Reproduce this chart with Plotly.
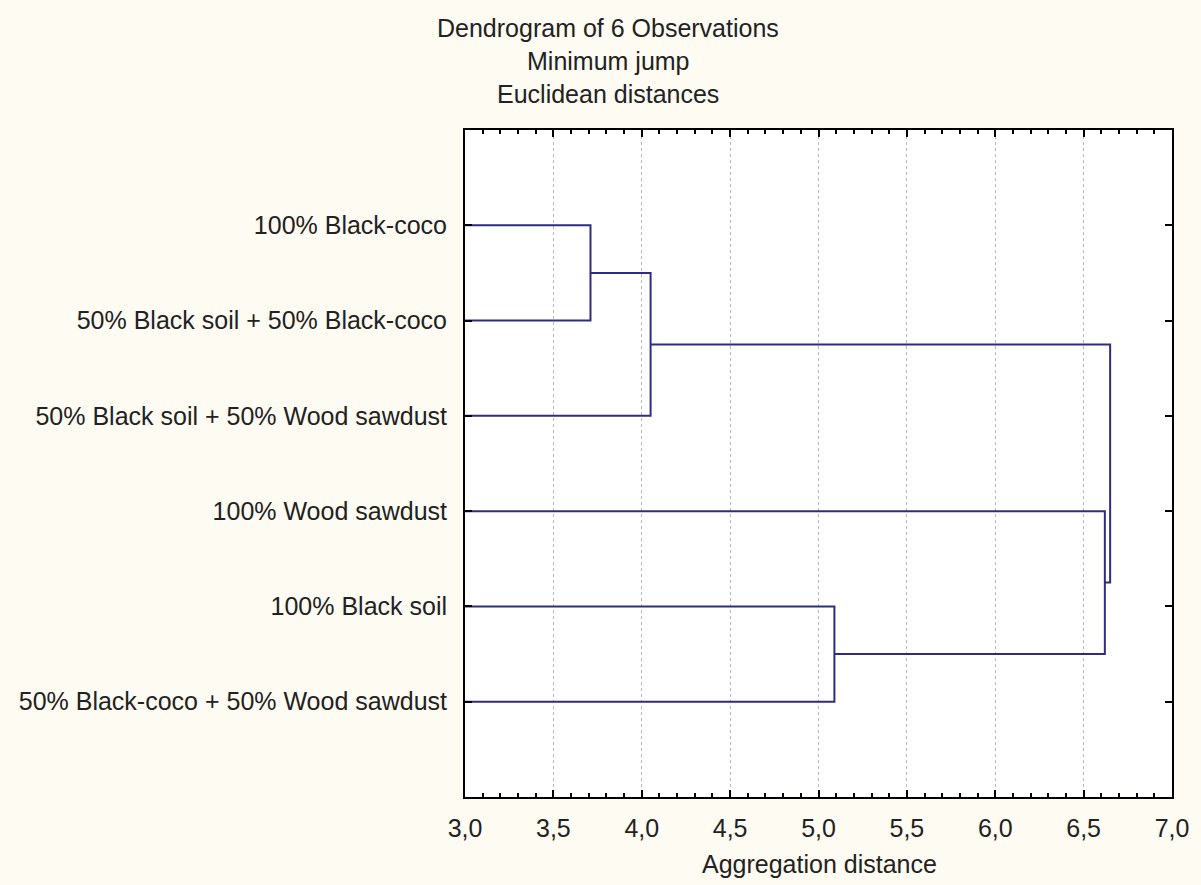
import plotly.graph_objects as go

# ---- data ----
leaf_labels = [
    "100% Black-coco",
    "50% Black soil + 50% Black-coco",
    "50% Black soil + 50% Wood sawdust",
    "100% Wood sawdust",
    "100% Black soil",
    "50% Black-coco + 50% Wood sawdust",
]
# merges: (child_a, child_b, aggregation distance); new cluster ids start at len(leaf_labels)
merge_a = [0, 6, 4, 3, 7]
merge_b = [1, 2, 5, 8, 9]
merge_dist = [3.71, 4.05, 5.09, 6.62, 6.65]

x_ticks = [3.0, 3.5, 4.0, 4.5, 5.0, 5.5, 6.0, 6.5, 7.0]
title_lines = ["Dendrogram of 6 Observations", "Minimum jump", "Euclidean distances"]
x_title = "Aggregation distance"

# ---- build dendrogram paths ----
n = len(leaf_labels)
ypos = {i: i + 1 for i in range(n)}
height = {i: 0.0 for i in range(n)}
xs, ys = [], []
for k, (a, b, d) in enumerate(zip(merge_a, merge_b, merge_dist)):
    cid = n + k
    xs += [height[a], d, d, height[b], None]
    ys += [ypos[a], ypos[a], ypos[b], ypos[b], None]
    ypos[cid] = (ypos[a] + ypos[b]) / 2
    height[cid] = d

fig = go.Figure()
fig.add_trace(go.Scatter(
    x=xs, y=ys, mode="lines",
    line=dict(color="#2E2E80", width=2),
    hoverinfo="skip", showlegend=False,
))

font = "Liberation Sans, Arial, sans-serif"
FS = 25
W, H = 1201, 885
LEFT, RIGHT = 465, 1181
TOP, BOTTOM = 130, 797
PH = BOTTOM - TOP
PW = RIGHT - LEFT


def py(p):
    return (BOTTOM - p) / PH


def px(p):
    return (p - LEFT) / PW


annots = []
for line, p in zip(title_lines, [28, 61, 94]):
    annots.append(dict(text=line, x=px(610), xref="paper", xanchor="center",
                       y=py(p), yref="paper", yanchor="middle", showarrow=False,
                       font=dict(family=font, size=FS, color="#222222")))
annots.append(dict(text=x_title, x=px(824), xref="paper", xanchor="center",
                   y=py(864), yref="paper", yanchor="middle", showarrow=False,
                   font=dict(family=font, size=FS, color="#222222")))

fig.update_layout(
    width=W, height=H,
    margin=dict(l=LEFT, r=W - RIGHT, t=TOP, b=H - BOTTOM),
    paper_bgcolor="#FEFBF3",
    plot_bgcolor="white",
    separators=",.",
    font=dict(family=font, size=FS, color="#222222"),
    annotations=annots,
    xaxis=dict(
        range=[3, 7], tickvals=x_ticks, tickformat=".1f",
        ticks="inside", ticklen=7, tickwidth=2, tickcolor="black",
        showline=True, linecolor="black", linewidth=2, mirror="ticks",
        showgrid=True, gridcolor="#B8B8B8", griddash="dot", gridwidth=1,
        minor=dict(dtick=0.1, ticks="inside", ticklen=4, tickwidth=2,
                   tickcolor="black", showgrid=False),
        zeroline=False,
        tickfont=dict(family=font, size=FS),
        ticklabelstandoff=8,
        ticklabeloverflow="allow",
    ),
    yaxis=dict(
        range=[7, 0], tickvals=list(range(1, n + 1)), ticktext=leaf_labels,
        ticks="inside", ticklen=7, tickwidth=2, tickcolor="black",
        showline=True, linecolor="black", linewidth=2, mirror="ticks",
        showgrid=False, zeroline=False,
        tickfont=dict(family=font, size=FS),
        ticklabelstandoff=11,
    ),
)

fig.write_html(
    "out.html",
    config={"displayModeBar": False},
    post_script="document.body.style.margin='0';document.body.style.overflow='hidden';",
)
